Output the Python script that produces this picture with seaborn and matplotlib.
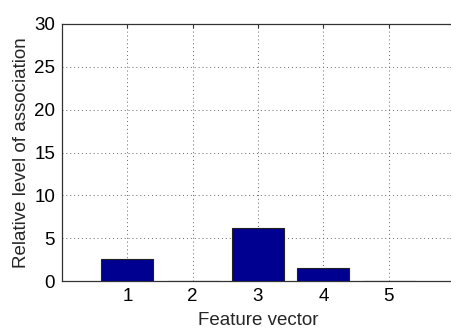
import matplotlib
matplotlib.use("Agg")
import matplotlib.pyplot as plt
import seaborn as sns
import pandas as pd

features = [1, 2, 3, 4, 5]
association = [2.6, 0.0, 6.2, 1.5, 0.0]
y_ticks = [0, 5, 10, 15, 20, 25, 30]

sns.set_style("white")
plt.rcParams["font.family"] = ["Liberation Sans", "DejaVu Sans"]

df = pd.DataFrame({"feature": features, "association": association})

fig = plt.figure(figsize=(4.52, 3.29), dpi=100)
ax = fig.add_axes([62 / 452, 1 - 281 / 329, (454 - 62) / 452, (281 - 24) / 329])

sns.barplot(data=df, x="feature", y="association", native_scale=True,
            width=0.8, color="#000090", saturation=1, edgecolor="#202020",
            linewidth=0.8, ax=ax, zorder=3)

ax.set_xlim(0, 6)
ax.set_ylim(0, 30)
ax.set_xticks(features)
ax.set_yticks(y_ticks)
ax.set_xticklabels([str(f) for f in features])
ax.grid(True, linestyle=(0, (1, 3)), color="#666666", linewidth=0.7, zorder=0)
ax.set_axisbelow(True)
ax.tick_params(direction="in", length=3, width=0.8, labelsize=13.5,
               top=True, right=True, colors="#333333", labelcolor="black", pad=5)
for s in ax.spines.values():
    s.set_color("#333333")
    s.set_linewidth(0.9)

ax.set_xlabel("Feature vector", fontsize=13.5, labelpad=5)
ax.set_ylabel("Relative level of association", fontsize=13.5, labelpad=3)

fig.savefig("out.png", dpi=100)
